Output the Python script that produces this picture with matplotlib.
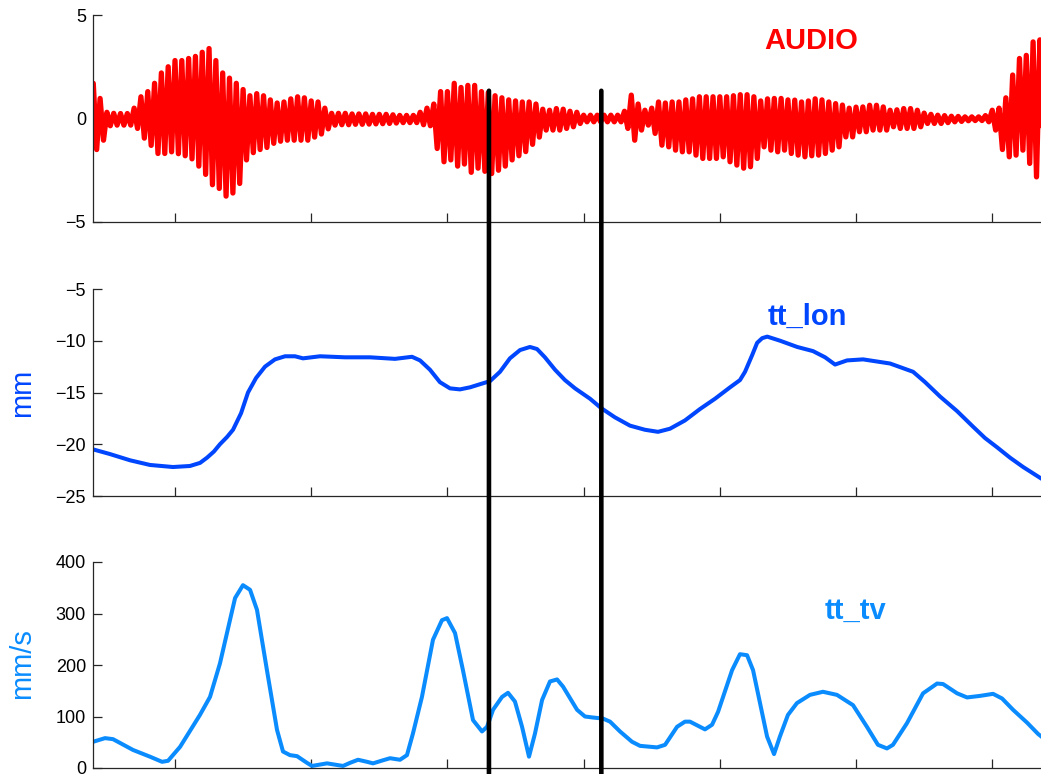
import numpy as np
import matplotlib
matplotlib.use("Agg")
import matplotlib.pyplot as plt
from matplotlib.patches import ConnectionPatch

plt.rcParams['font.family'] = ['Liberation Sans', 'DejaVu Sans']

# ---------------- data (time axis in arbitrary units, ticks at 1..7) ----------------
x_ticks = [1, 2, 3, 4, 5, 6, 7]
x_limits = (0.398, 7.358)

# AUDIO: envelope peaks (upper / lower) read every 0.05 time units starting at 0.40
audio_start = 0.40
audio_step = 0.05
audio_hi = [1.7, 0.97, 0.3, 0.25, 0.24, 0.24, 0.5, 1.05, 1.3, 1.7,
            2.2, 2.5, 2.8, 2.8, 2.9, 3.0, 3.2, 3.38, 2.8, 2.2,
            1.95, 1.7, 1.4, 1.1, 1.2, 1.1, 0.9, 0.75, 0.8, 0.95,
            1.05, 1.0, 0.85, 0.8, 0.5, 0.25, 0.25, 0.25, 0.22, 0.22,
            0.22, 0.2, 0.2, 0.2, 0.18, 0.15, 0.15, 0.15, 0.3, 0.5,
            0.7, 1.3, 1.3, 1.7, 1.5, 1.6, 1.6, 1.3, 1.25, 1.1,
            1.0, 0.9, 0.85, 0.8, 0.8, 0.7, 0.45, 0.4, 0.48, 0.45,
            0.35, 0.3, 0.16, 0.16, 0.16, 0.16, 0.16, 0.16, 0.35, 1.13,
            0.7, 0.4, 0.5, 0.8, 0.75, 0.8, 0.8, 0.9, 0.95, 1.05,
            1.05, 1.05, 1.05, 1.05, 1.1, 1.15, 1.15, 1.05, 0.85, 0.95,
            0.97, 0.97, 0.9, 0.89, 0.8, 0.85, 0.95, 0.9, 0.8, 0.72,
            0.65, 0.5, 0.55, 0.56, 0.64, 0.64, 0.56, 0.4, 0.42, 0.48,
            0.48, 0.4, 0.26, 0.2, 0.16, 0.14, 0.11, 0.1, 0.08, 0.08,
            0.08, 0.14, 0.4, 0.5, 1.0, 2.1, 2.9, 3.05, 3.7, 3.8]
audio_lo = [-1.5, -1.05, -0.35, -0.32, -0.32, -0.32, -0.48, -0.95, -1.3, -1.69,
            -1.69, -1.61, -1.7, -1.8, -1.95, -2.3, -2.7, -3.2, -3.38, -3.75,
            -3.6, -3.14, -2.0, -1.65, -1.5, -1.4, -1.2, -1.1, -1.05, -1.05,
            -1.05, -1.05, -0.9, -0.75, -0.5, -0.32, -0.3, -0.3, -0.28, -0.28,
            -0.27, -0.26, -0.25, -0.24, -0.22, -0.2, -0.2, -0.2, -0.3, -0.35,
            -1.45, -2.09, -2.0, -2.3, -2.2, -2.6, -2.4, -2.55, -2.66, -2.5,
            -2.3, -2.0, -1.8, -1.6, -1.25, -0.9, -0.56, -0.56, -0.56, -0.48,
            -0.4, -0.24, -0.16, -0.16, -0.16, -0.16, -0.16, -0.16, -0.48, -1.05,
            -0.56, -0.32, -0.72, -1.29, -1.37, -1.53, -1.61, -1.61, -1.77, -1.93,
            -1.93, -1.93, -1.85, -2.09, -2.25, -2.4, -2.33, -1.93, -1.37, -1.53,
            -1.61, -1.53, -1.69, -1.77, -1.85, -1.8, -1.77, -1.69, -1.53, -1.37,
            -0.89, -0.89, -0.64, -0.64, -0.56, -0.56, -0.56, -0.4, -0.48, -0.48,
            -0.48, -0.4, -0.24, -0.24, -0.24, -0.2, -0.16, -0.14, -0.11, -0.1,
            -0.1, -0.16, -0.56, -1.5, -1.85, -1.77, -1.53, -2.17, -2.82, -2.98]

# tt_lon (mm) at read-off times
lon_t = [0.400, 0.523, 0.670, 0.816, 0.985, 1.110, 1.184, 1.235, 1.286, 1.330,
         1.382, 1.426, 1.485, 1.536, 1.595, 1.661, 1.734, 1.808, 1.881, 1.940,
         2.065, 2.248, 2.432, 2.615, 2.740, 2.799, 2.872, 2.945, 3.019, 3.092,
         3.166, 3.239, 3.313, 3.386, 3.459, 3.533, 3.606, 3.658, 3.716, 3.790,
         3.863, 3.937, 4.047, 4.128, 4.230, 4.340, 4.450, 4.546, 4.634, 4.744,
         4.854, 4.965, 5.075, 5.148, 5.185, 5.237, 5.274, 5.311, 5.348, 5.443,
         5.568, 5.684, 5.773, 5.846, 5.934, 6.052, 6.250, 6.419, 6.507, 6.618,
         6.742, 6.859, 6.947, 7.036, 7.131, 7.227, 7.358, 7.410]
tt_lon = [-20.5, -20.95, -21.55, -22.0, -22.2, -22.1, -21.8, -21.3, -20.7, -20.0,
          -19.3, -18.6, -17.0, -15.0, -13.6, -12.5, -11.8, -11.5, -11.5, -11.7,
          -11.5, -11.6, -11.6, -11.75, -11.55, -11.9, -12.8, -14.0, -14.6, -14.7,
          -14.5, -14.2, -13.9, -13.0, -11.7, -10.9, -10.6, -10.8, -11.6, -12.8,
          -13.8, -14.6, -15.6, -16.5, -17.4, -18.2, -18.6, -18.8, -18.5, -17.7,
          -16.6, -15.6, -14.5, -13.8, -13.0, -11.4, -10.2, -9.75, -9.6, -10.0,
          -10.6, -11.0, -11.6, -12.3, -11.9, -11.8, -12.2, -13.0, -14.0, -15.4,
          -16.8, -18.3, -19.4, -20.3, -21.3, -22.2, -23.3, -23.7]

# tt_tv (mm/s) at read-off times
tv_t = [0.400, 0.486, 0.545, 0.692, 0.816, 0.905, 0.949, 1.037, 1.183, 1.257,
        1.330, 1.441, 1.499, 1.551, 1.602, 1.675, 1.749, 1.793, 1.844, 1.896,
        1.969, 2.006, 2.116, 2.234, 2.285, 2.344, 2.410, 2.454, 2.527, 2.579,
        2.652, 2.703, 2.747, 2.813, 2.894, 2.960, 2.997, 3.056, 3.114, 3.188,
        3.254, 3.291, 3.335, 3.401, 3.445, 3.496, 3.548, 3.599, 3.643, 3.695,
        3.753, 3.805, 3.849, 3.952, 4.010, 4.069, 4.142, 4.194, 4.267, 4.355,
        4.414, 4.539, 4.598, 4.686, 4.744, 4.781, 4.891, 4.943, 4.987, 5.090,
        5.148, 5.200, 5.244, 5.347, 5.398, 5.441, 5.500, 5.566, 5.662, 5.757,
        5.860, 5.978, 6.080, 6.161, 6.227, 6.271, 6.374, 6.492, 6.595, 6.639,
        6.742, 6.815, 6.910, 7.006, 7.072, 7.153, 7.256, 7.337, 7.390]
tt_tv = [51, 58, 56, 35, 22, 12, 14, 41, 103, 138,
         203, 330, 355, 346, 307, 190, 74, 32, 25, 23,
         10, 4, 9, 4, 10, 16, 12, 9, 15, 19,
         16, 25, 67, 138, 249, 287, 291, 262, 190, 93,
         71, 80, 113, 138, 146, 129, 80, 22, 67, 132,
         168, 172, 158, 113, 100, 98, 96, 90, 71, 51,
         43, 40, 45, 80, 90, 90, 75, 84, 109, 190,
         221, 219, 190, 61, 27, 61, 103, 126, 142, 148,
         142, 122, 80, 45, 38, 45, 87, 145, 164, 163,
         145, 137, 140, 144, 135, 113, 88, 66, 55]

# segment boundaries (time) and their top point on the audio axis
boundary_t = [3.305, 4.130]
boundary_top = 1.34

audio_yticks = [-5, 0, 5]
lon_yticks = [-25, -20, -15, -10, -5]
tv_yticks = [0, 100, 200, 300, 400]

RED = '#ff0000'
BLUE = '#0046ff'
LIGHTBLUE = '#0a8cff'

# ---------------- figure ----------------
fig = plt.figure(figsize=(10.41, 7.74), dpi=100)
W, H = 1041, 774
left = 93 / W
width = 1 - left
h_ax = 207 / H
ax_top = fig.add_axes([left, 1 - 222 / H, width, h_ax])
ax_mid = fig.add_axes([left, 1 - 496 / H, width, h_ax])
ax_bot = fig.add_axes([left, 1 - 768 / H, width, 206 / H])

for ax in (ax_top, ax_mid, ax_bot):
    ax.set_xlim(*x_limits)
    ax.set_xticks(x_ticks)
    ax.set_xticklabels([])
    ax.spines['top'].set_visible(False)
    ax.spines['right'].set_visible(False)
    for s in ('left', 'bottom'):
        ax.spines[s].set_color('#262626')
        ax.spines[s].set_linewidth(0.9)
    ax.tick_params(axis='x', direction='in', length=6.5, width=0.9, color='#262626',
                   top=False)
    ax.tick_params(axis='y', direction='in', length=6.3, width=0.9, color='#262626',
                   right=False, labelsize=13, pad=5, labelcolor='black')

# audio: zigzag through the read upper/lower peaks
t_a = audio_start + audio_step * np.arange(len(audio_hi))
xz = np.column_stack([t_a, t_a + audio_step / 2]).ravel()
yz = np.column_stack([audio_hi, audio_lo]).ravel()
ax_top.plot(xz, yz, color=RED, lw=3.8, solid_joinstyle='round',
            solid_capstyle='round')
ax_top.set_ylim(-5, 5)
ax_top.set_yticks(audio_yticks)
ax_top.text(0.758, 0.836, 'AUDIO', transform=ax_top.transAxes, color=RED,
            fontsize=21, fontweight='bold', ha='center', va='baseline')

# tt_lon
ax_mid.plot(lon_t, tt_lon, color=BLUE, lw=2.9, solid_joinstyle='round')
ax_mid.set_ylim(-25, -5)
ax_mid.set_yticks(lon_yticks)
ax_mid.set_ylabel('mm', color=BLUE, fontsize=21)
ax_mid.yaxis.set_label_coords(-0.060, 0.5)
ax_mid.text(0.753, 0.829, 'tt_lon', transform=ax_mid.transAxes, color=BLUE,
            fontsize=21, fontweight='bold', ha='center', va='baseline')

# tt_tv
ax_bot.plot(tv_t, tt_tv, color=LIGHTBLUE, lw=2.9, solid_joinstyle='round')
ax_bot.set_ylim(0, 400)
ax_bot.set_yticks(tv_yticks)
ax_bot.set_ylabel('mm/s', color=LIGHTBLUE, fontsize=21)
ax_bot.yaxis.set_label_coords(-0.060, 0.505)
ax_bot.text(0.804, 0.722, 'tt_tv', transform=ax_bot.transAxes, color=LIGHTBLUE,
            fontsize=21, fontweight='bold', ha='center', va='baseline')

# boundary lines spanning all panels
for bt in boundary_t:
    con = ConnectionPatch(xyA=(bt, boundary_top), coordsA=ax_top.transData,
                          xyB=(bt, -40), coordsB=ax_bot.transData,
                          color='black', lw=3.3, zorder=10)
    fig.add_artist(con)

fig.savefig('out.png', dpi=100)
